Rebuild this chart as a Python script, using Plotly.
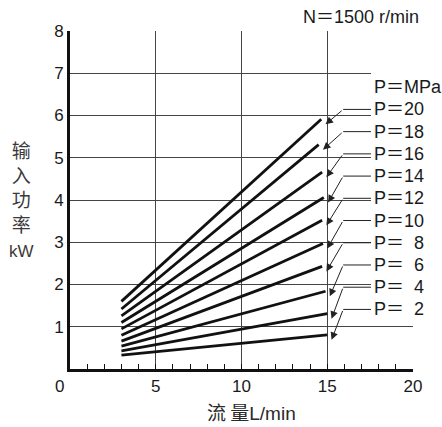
import plotly.graph_objects as go

# ---- data ----
pressures = [2, 4, 6, 8, 10, 12, 14, 16, 18, 20]            # MPa
flow_start = [3, 3, 3, 3, 3, 3, 3, 3, 3, 3]                  # L/min
flow_end = [15.0, 15.0, 14.9, 14.7, 14.75, 14.7, 14.8, 14.7, 14.5, 14.65]
power_start = [0.33, 0.43, 0.54, 0.66, 0.80, 0.95, 1.10, 1.26, 1.42, 1.60]   # kW
power_end = [0.81, 1.31, 1.84, 2.43, 2.97, 3.52, 4.06, 4.66, 5.31, 5.91]     # kW
label_texts = ["P＝  2", "P＝  4", "P＝  6", "P＝  8", "P＝10",
               "P＝12", "P＝14", "P＝16", "P＝18", "P＝20"]
x_ticks = [0, 5, 10, 15, 20]
x_ticktext = ["", "5", "10", "15", "20"]
y_ticks = [1, 2, 3, 4, 5, 6, 7, 8]

W, H = 442, 427
L, R, T, B = 70, 29, 31, 58
PW, PH = W - L - R, H - T - B
FONT = "Liberation Sans, Arial, Noto Sans CJK SC"
CJK = "Noto Sans CJK SC, Liberation Sans"
TXT = "#1a1a1a"


def px(xp):
    return (xp - L) / PW


def py(yp):
    return (H - B - yp) / PH


fig = go.Figure()
for xs, xe, ys, ye in zip(flow_start, flow_end, power_start, power_end):
    fig.add_trace(go.Scatter(x=[xs, xe], y=[ys, ye], mode="lines",
                             line=dict(color="#111111", width=2.8),
                             showlegend=False, hoverinfo="skip"))

annotations = []
# white panel behind the pressure labels (hides grid and border there)
shapes = [dict(type="rect", xref="paper", yref="paper",
               x0=px(371), x1=px(442), y0=py(323), y1=py(72),
               fillcolor="white", line=dict(width=0), layer="above")]
label_y0 = 1.41
label_step = 0.526
for i, (txt, xe, ye) in enumerate(zip(label_texts, flow_end, power_end)):
    ly = label_y0 + i * label_step
    annotations.append(dict(x=17.6, y=ly, xref="x", yref="y", text=txt,
                            showarrow=False, xanchor="left", yanchor="middle",
                            font=dict(family=FONT, size=18, color=TXT)))
    shapes.append(dict(type="line", xref="x", yref="y", x0=15.93, x1=17.55,
                       y0=ly, y1=ly, line=dict(color="#222", width=1), layer="above"))
    annotations.append(dict(x=xe + 0.25, y=ye - 0.12, xref="x", yref="y",
                            ax=15.93, ay=ly, axref="x", ayref="y", text="",
                            showarrow=True, arrowhead=2, arrowsize=1.5,
                            arrowwidth=1, arrowcolor="#222"))
annotations.append(dict(x=17.6, y=label_y0 + 10 * label_step, xref="x", yref="y",
                        text="P＝MPa", showarrow=False, xanchor="left",
                        yanchor="middle", font=dict(family=FONT, size=18, color=TXT)))

annotations.append(dict(x=px(421), y=py(17), xref="paper", yref="paper",
                        text="N＝1500 r/min", showarrow=False, xanchor="right",
                        yanchor="middle", font=dict(family=FONT, size=18, color=TXT)))
annotations.append(dict(x=px(59), y=py(386), xref="paper", yref="paper",
                        text="0", showarrow=False, xanchor="center",
                        yanchor="middle", font=dict(family=FONT, size=17, color=TXT)))
annotations.append(dict(x=px(21), y=py(198), xref="paper", yref="paper",
                        text="输<br>入<br>功<br>率<br><span style='font-family:Liberation Sans;font-size:17px'>kW</span>",
                        showarrow=False, xanchor="center", yanchor="middle",
                        align="center",
                        font=dict(family=CJK, size=19, color="#3a3a3a")))
annotations.append(dict(x=px(251), y=py(411), xref="paper", yref="paper",
                        text="<span style='font-family:Noto Sans CJK SC'>流 量</span>L/min",
                        showarrow=False, xanchor="center",
                        yanchor="middle", font=dict(family=FONT, size=19, color="#2a2a2a")))

fig.update_layout(
    width=W, height=H,
    margin=dict(l=L, r=R, t=T, b=B),
    paper_bgcolor="white", plot_bgcolor="white",
    font=dict(family=FONT, size=17, color=TXT),
    annotations=annotations, shapes=shapes,
    showlegend=False,
)
fig.update_xaxes(range=[0, 20], tickvals=x_ticks, ticktext=x_ticktext,
                 showgrid=True, gridcolor="#444", gridwidth=1,
                 showline=True, linecolor="#111", linewidth=3, mirror=False,
                 ticks="inside", ticklen=5, tickcolor="#111", tickwidth=1,
                 minor=dict(dtick=1, ticks="inside", ticklen=5,
                            tickcolor="#111", tickwidth=1, showgrid=False),
                 zeroline=False, tickfont=dict(size=17, family=FONT, color=TXT),
                 fixedrange=True)
fig.update_yaxes(range=[0, 8], tickvals=y_ticks,
                 showgrid=True, gridcolor="#444", gridwidth=1,
                 showline=True, linecolor="#111", linewidth=3,
                 ticks="", zeroline=False,
                 tickfont=dict(size=17, family=FONT, color=TXT),
                 fixedrange=True)

fig.write_html("out.html")
